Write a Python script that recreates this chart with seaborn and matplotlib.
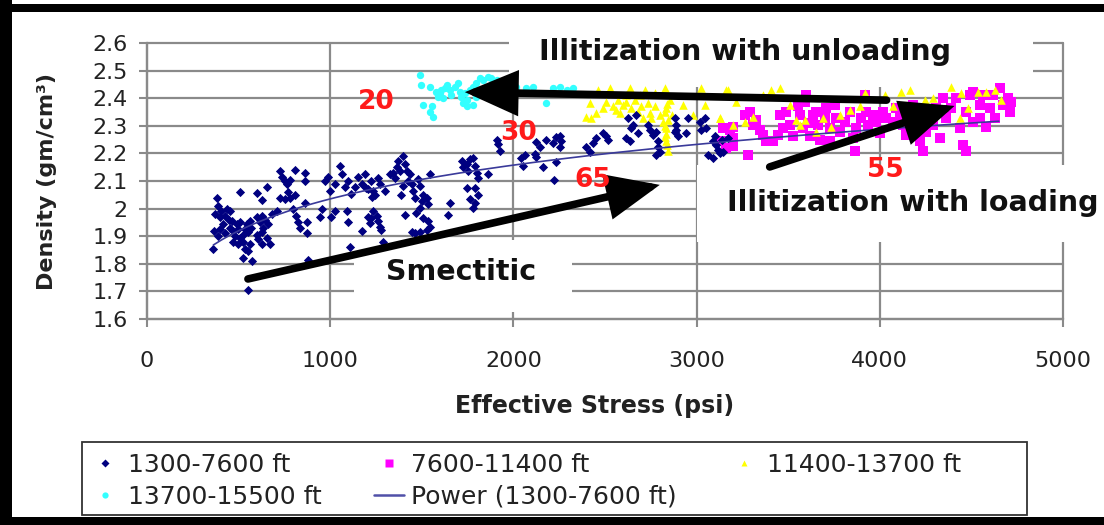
import numpy as np
import pandas as pd
import matplotlib
matplotlib.use("Agg")
import matplotlib.pyplot as plt
import seaborn as sns
from matplotlib.patches import Rectangle
from matplotlib.lines import Line2D
from matplotlib.ticker import FuncFormatter

# ------------------------------------------------------------------ data
# 1300-7600 ft  (effective stress psi, density g/cm3)
shallow_pts = [
    (380, 2.04), (390, 2.01), (405, 1.99), (370, 1.98), (400, 1.97), (435, 2.00), (425, 1.975),
    (455, 1.99), (445, 1.96), (462, 1.955), (415, 1.945), (368, 1.92), (398, 1.925), (390, 1.90),
    (425, 1.91), (453, 1.93), (470, 1.92), (490, 1.945), (505, 1.95), (498, 1.925), (480, 1.90),
    (507, 1.895), (525, 1.905), (535, 1.925), (545, 1.945), (562, 1.955), (570, 1.93), (553, 1.915),
    (526, 1.88), (498, 1.87), (470, 1.88), (362, 1.855), (535, 1.855), (562, 1.87), (553, 1.845),
    (526, 1.82), (571, 1.81), (598, 1.905), (607, 1.89), (626, 1.915), (635, 1.93), (617, 1.95),
    (598, 1.97), (626, 1.975), (644, 1.96), (662, 1.945), (670, 1.87), (626, 1.87), (653, 1.895),
    (507, 2.06), (598, 2.055), (626, 2.03), (653, 2.08), (680, 1.98), (553, 1.705),
    (726, 2.135), (735, 2.115), (753, 2.10), (780, 2.105), (762, 2.09), (807, 2.14), (862, 2.13),
    (862, 2.10), (771, 2.06), (726, 2.04), (753, 2.035), (780, 2.04), (807, 2.05), (707, 1.99),
    (798, 2.00), (816, 1.975), (826, 1.95), (835, 1.93), (871, 1.91), (871, 1.95), (862, 2.02),
    (880, 1.815),
    (971, 2.101), (989, 2.113), (998, 2.065), (1025, 2.089), (1053, 2.155), (1062, 2.125),
    (1080, 2.077), (1098, 2.101), (1116, 2.053), (1135, 2.077), (1153, 2.113), (1171, 2.089),
    (1189, 2.125), (1207, 2.071), (1226, 2.041), (1089, 1.993), (1098, 1.951), (1025, 1.993),
    (1007, 1.969), (953, 1.999), (944, 1.969), (1171, 1.920), (1107, 1.860), (1207, 1.969),
    (1198, 2.076), (1225, 2.10), (1235, 2.063), (1244, 2.051), (1262, 2.112), (1271, 2.088),
    (1298, 2.063), (1326, 2.124), (1344, 2.13), (1353, 2.112), (1362, 2.149), (1380, 2.137),
    (1371, 2.173), (1398, 2.191), (1408, 2.161), (1417, 2.137), (1435, 2.124), (1426, 2.10),
    (1398, 2.082), (1389, 2.051), (1444, 2.088), (1453, 2.063), (1462, 2.039), (1480, 2.106),
    (1490, 2.082), (1508, 2.051), (1499, 2.027), (1526, 2.039), (1535, 2.015), (1490, 2.002),
    (1471, 1.984), (1508, 1.966), (1535, 1.954), (1544, 1.935), (1526, 1.923), (1490, 1.917),
    (1462, 1.911), (1444, 1.917), (1235, 1.99), (1253, 1.972), (1262, 1.954), (1271, 1.935),
    (1280, 1.923), (1225, 1.966), (1216, 1.948), (1289, 1.88), (1408, 1.978), (1653, 2.021),
    (1644, 1.978), (1544, 2.124), (1717, 2.173), (1726, 2.149), (1744, 2.161), (1753, 2.137),
    (1762, 2.179), (1780, 2.185), (1790, 2.155), (1799, 2.13), (1808, 2.112), (1744, 2.076),
    (1790, 2.076), (1808, 2.051), (1790, 2.021), (1780, 2.002), (1762, 2.033), (1862, 2.124),
    (1917, 2.234), (1926, 2.21), (2044, 2.185), (2053, 2.155), (2117, 2.198),
    (1908, 2.249), (2126, 2.243), (2144, 2.225), (2180, 2.249), (2217, 2.237), (2235, 2.261),
    (2253, 2.225), (2062, 2.194), (2122, 2.187), (2160, 2.151), (2220, 2.104), (2230, 2.17),
    (2253, 2.262), (2262, 2.244), (2399, 2.224), (2417, 2.206), (2435, 2.236), (2453, 2.256),
    (2490, 2.273), (2508, 2.262), (2517, 2.250), (2617, 2.256), (2635, 2.244), (2626, 2.327),
    (2653, 2.303), (2671, 2.339), (2681, 2.273), (2644, 2.291), (2735, 2.303), (2744, 2.285),
    (2762, 2.268), (2781, 2.279), (2790, 2.244), (2790, 2.224), (2781, 2.194), (2799, 2.206),
    (2881, 2.327), (2890, 2.303), (2899, 2.262), (2881, 2.279), (2890, 2.285), (2954, 2.327),
    (2944, 2.273), (3017, 2.315), (3026, 2.285), (3044, 2.327), (3053, 2.291), (3099, 2.262),
    (3090, 2.244), (3108, 2.230), (3136, 2.250), (3117, 2.213), (3062, 2.194), (3090, 2.182),
    (3126, 2.200), (3145, 2.206), (3172, 2.256),
]

# 7600-11400 ft
mid_pts = [
    (3153, 2.291), (3199, 2.297), (3135, 2.244), (3199, 2.226),
    (3144, 2.291), (3181, 2.285), (3199, 2.256), (3162, 2.220), (3262, 2.339), (3290, 2.351),
    (3308, 2.303), (3326, 2.321), (3344, 2.285), (3363, 2.268), (3381, 2.244), (3281, 2.196),
    (3417, 2.244), (3445, 2.268), (3472, 2.291), (3508, 2.303), (3526, 2.262), (3554, 2.370),
    (3563, 2.339), (3581, 2.291), (3599, 2.412), (3608, 2.309), (3617, 2.262), (3635, 2.339),
    (3654, 2.351), (3663, 2.303), (3672, 2.250), (3699, 2.327), (3708, 2.363), (3726, 2.291),
    (3754, 2.376), (3763, 2.327), (3781, 2.279), (3808, 2.315), (3836, 2.351), (3854, 2.256),
    (3863, 2.208), (3872, 2.291), (3899, 2.327), (3917, 2.412), (3926, 2.351), (3936, 2.303),
    (3963, 2.339), (3981, 2.315), (3999, 2.273), (4036, 2.327), (4072, 2.315), (3590, 2.388),
    (3490, 2.351), (3726, 2.244), (3454, 2.339),
    (4018, 2.351), (4090, 2.363), (4108, 2.339), (4127, 2.303), (4145, 2.268), (4181, 2.376),
    (4218, 2.244), (4236, 2.208), (4254, 2.279), (4290, 2.303), (4327, 2.256), (4345, 2.400),
    (4363, 2.327), (4390, 2.363), (4418, 2.400), (4436, 2.291), (4454, 2.232), (4472, 2.208),
    (4472, 2.351), (4490, 2.412), (4509, 2.315), (4545, 2.376), (4545, 2.327), (4563, 2.412),
    (4581, 2.297), (4600, 2.363), (4627, 2.327), (4654, 2.436), (4672, 2.376), (4700, 2.400),
    (4709, 2.351), (4718, 2.388), (4618, 2.412), (4509, 2.424), (4308, 2.363),
]

# 11400-13700 ft
deep_pts = [
    (2417, 2.382), (2399, 2.333), (2426, 2.327), (2453, 2.345), (2462, 2.430), (2490, 2.363),
    (2508, 2.388), (2526, 2.436), (2544, 2.370), (2562, 2.357), (2572, 2.394), (2581, 2.345),
    (2599, 2.376), (2617, 2.388), (2635, 2.436), (2644, 2.363), (2662, 2.394), (2681, 2.351),
    (2699, 2.370), (2708, 2.327), (2717, 2.430), (2735, 2.382), (2744, 2.345), (2753, 2.327),
    (2772, 2.370), (2799, 2.339), (2817, 2.315), (2826, 2.436), (2835, 2.363), (2835, 2.291),
    (2835, 2.244), (2844, 2.208), (2854, 2.394), (2863, 2.339), (2926, 2.376), (2981, 2.339),
    (3026, 2.436), (3044, 2.376), (3126, 2.327), (3172, 2.430), (3199, 2.303), (2617, 2.412),
    (2690, 2.412), (2772, 2.418), (2835, 2.270), (2844, 2.320), (2826, 2.300), (2830, 2.26),
    (2840, 2.23), (2830, 2.35), (2840, 2.38),
    (3162, 2.430), (3217, 2.388), (3408, 2.430), (3454, 2.436), (3363, 2.412), (3508, 2.376),
    (3308, 2.333), (3262, 2.315), (3545, 2.321), (3590, 2.321), (3563, 2.303), (3690, 2.327),
    (3736, 2.297), (3781, 2.339), (3836, 2.357), (3890, 2.370), (3654, 2.279), (3126, 2.327),
    (4072, 2.370), (4026, 2.412), (3917, 2.418),
    (4117, 2.424), (4163, 2.430), (4245, 2.394), (4290, 2.400), (4390, 2.442), (4445, 2.418),
    (4481, 2.363), (4536, 2.424), (4581, 2.424), (4627, 2.430), (4663, 2.394), (4436, 2.327),
]

# 13700-15500 ft
deepest_pts = [
    (1489, 2.484), (1498, 2.448), (1544, 2.442), (1580, 2.424), (1598, 2.418), (1589, 2.405),
    (1607, 2.430), (1625, 2.436), (1635, 2.448), (1653, 2.430), (1662, 2.412), (1680, 2.442),
    (1698, 2.454), (1707, 2.424), (1716, 2.405), (1735, 2.418), (1744, 2.393), (1762, 2.430),
    (1780, 2.442), (1798, 2.454), (1816, 2.472), (1835, 2.466), (1862, 2.478), (1880, 2.472),
    (1908, 2.466), (1935, 2.460), (1507, 2.376), (1553, 2.370), (1562, 2.333), (1544, 2.351),
    (1744, 2.370), (1780, 2.376), (1726, 2.381), (2016, 2.442), (2071, 2.436), (2108, 2.442),
    (2180, 2.381), (2217, 2.436), (2253, 2.442), (2290, 2.430), (2326, 2.436), (1798, 2.405),
    (1616, 2.399),
]

series_names = ["1300-7600 ft", "7600-11400 ft", "11400-13700 ft", "13700-15500 ft"]
trend_label = "Power (1300-7600 ft)"
trend_forecast_end = 4650          # Excel trendline extended forward to ~4650 psi

x_ticks = [0, 1000, 2000, 3000, 4000, 5000]
y_ticks = [1.6, 1.7, 1.8, 1.9, 2.0, 2.1, 2.2, 2.3, 2.4, 2.5, 2.6]

annotations = ["Illitization with unloading", "Smectitic", "Illitization with loading"]
smectite_pct = ["20", "30", "65", "55"]

# ------------------------------------------------------------------ build frame
def to_df(pts, name):
    a = np.array(pts, dtype=float)
    return pd.DataFrame({"stress": a[:, 0], "density": a[:, 1], "series": name})

dfs = {n: to_df(p, n) for n, p in zip(series_names, [shallow_pts, mid_pts, deep_pts, deepest_pts])}

NAVY, MAGENTA, YELLOW, CYAN = "#000080", "#ff00ff", "#ffff00", "#33ffff"
TREND = "#3a3a9a"
GRID = "#8a8a8a"
RED = "#ff1a1a"

sns.set_theme(style="white")
plt.rcParams["font.family"] = ["DejaVu Sans"]

W, H = 1104, 525
fig = plt.figure(figsize=(W / 100, H / 100), dpi=100)
fig.patch.set_facecolor("white")

def fx(px):
    return px / W

def fy(py):
    return 1 - py / H

ax_l, ax_r, ax_t, ax_b = 147, 1063, 43, 319
ax = fig.add_axes([fx(ax_l), fy(ax_b), fx(ax_r - ax_l), (ax_b - ax_t) / H])
ax.set_facecolor("white")

# series (drawing order: magenta, yellow, navy, cyan)
sns.scatterplot(data=dfs[series_names[1]], x="stress", y="density", ax=ax, marker="s",
                color=MAGENTA, s=52, linewidth=0, zorder=3, legend=False)
sns.scatterplot(data=dfs[series_names[2]], x="stress", y="density", ax=ax, marker="^",
                color=YELLOW, s=38, linewidth=0, zorder=3, legend=False)
sns.scatterplot(data=dfs[series_names[0]], x="stress", y="density", ax=ax, marker="D",
                color=NAVY, s=22, linewidth=0, zorder=3, legend=False)
sns.scatterplot(data=dfs[series_names[3]], x="stress", y="density", ax=ax, marker="o",
                color=CYAN, s=28, linewidth=0, zorder=3, legend=False)

# power-law trendline fitted to the shallow series, forecast forward
sh = dfs[series_names[0]]
b, ln_a = np.polyfit(np.log(sh["stress"]), np.log(sh["density"]), 1)
tx = np.linspace(sh["stress"].min(), trend_forecast_end, 200)
trend_df = pd.DataFrame({"stress": tx, "density": np.exp(ln_a) * tx ** b})
sns.lineplot(data=trend_df, x="stress", y="density", ax=ax, color=TREND, lw=1.2,
             zorder=4, legend=False)

# axes
ax.set_xlim(0, 5000)
ax.set_ylim(1.6, 2.6)
ax.set_xticks(x_ticks)
ax.set_yticks(y_ticks)
ax.yaxis.set_major_formatter(FuncFormatter(lambda v, p: f"{v:g}"))
ax.set_axisbelow(True)
ax.grid(True, color=GRID, lw=1.6)
for gl in ax.get_xgridlines() + ax.get_ygridlines():
    gl.set_clip_on(False)
for s in ["top", "right"]:
    ax.spines[s].set_visible(False)
for s in ["left", "bottom"]:
    ax.spines[s].set_color(GRID)
    ax.spines[s].set_linewidth(1.6)
ax.tick_params(axis="both", direction="out", length=6, width=1.5, color=GRID,
               labelsize=16, labelcolor="#222222")
ax.tick_params(axis="x", pad=17, bottom=True)
ax.tick_params(axis="y", pad=8, left=True)
ax.set_xlabel("Effective Stress (psi)", fontsize=17, fontweight="bold", color="#222222")
ax.set_ylabel("Density (gm/cm\u00b3)", fontsize=16, fontweight="bold", color="#222222")
ax.xaxis.set_label_coords((595 - ax_l) / (ax_r - ax_l), -(394 - ax_b) / (ax_b - ax_t))
ax.yaxis.set_label_coords(-(ax_l - 57) / (ax_r - ax_l), 0.5)

# white text boxes that hide the grid behind annotations (data coords)
for (x0, x1, y0, y1) in [(1975, 4834, 2.441, 2.650),
                         (1129, 2319, 1.625, 1.886),
                         (3004, 5230, 1.879, 2.158)]:
    ax.add_patch(Rectangle((x0, y0), x1 - x0, y1 - y0, facecolor="white", edgecolor="none",
                           zorder=1, clip_on=False))

# arrows
arrow_kw = dict(arrowstyle="-|>,head_length=2.9,head_width=1.25", lw=5.5, color="black",
                shrinkA=0, shrinkB=0, mutation_scale=10, joinstyle="miter")
for tail, tip in [((551, 1.745), (2799, 2.086)),
                  ((4037, 2.393), (1735, 2.422)),
                  ((3399, 2.151), (4408, 2.372))]:
    ax.annotate("", xy=tip, xytext=tail, arrowprops=arrow_kw, annotation_clip=False, zorder=6)

# labels
txt_kw = dict(fontsize=20.5, fontweight="bold", color="#111111", ha="center", va="center",
              zorder=7, clip_on=False)
ax.text(3262, 2.567, annotations[0], **txt_kw)
ax.text(1713, 1.770, annotations[1], **txt_kw)
ax.text(4179, 2.020, annotations[2], **txt_kw)
for lab, (xx, yy) in zip(smectite_pct, [(1249, 2.386), (2029, 2.274), (2433, 2.104), (4032, 2.140)]):
    ax.text(xx, yy, lab, fontsize=19, fontweight="bold", color=RED, ha="center", va="center",
            zorder=7)

# legend (frame drawn separately to match the reference box)
fig.add_artist(Rectangle((fx(82), fy(515)), fx(1027 - 82), (515 - 442) / H, transform=fig.transFigure,
                         facecolor="white", edgecolor="#333333", lw=1.3, zorder=1))
h_navy = Line2D([], [], ls="none", marker="D", ms=4, mfc=NAVY, mec="none")
h_mag = Line2D([], [], ls="none", marker="s", ms=5.5, mfc=MAGENTA, mec="none")
h_yel = Line2D([], [], ls="none", marker="^", ms=5, mfc=YELLOW, mec="none")
h_cyan = Line2D([], [], ls="none", marker="o", ms=4.5, mfc=CYAN, mec="none")
h_trend = Line2D([], [], color="#5050a8", lw=1.8)
handles = [h_navy, h_cyan, h_mag, h_trend, h_yel]
labels = [series_names[0], series_names[3], series_names[1], trend_label, series_names[2]]
leg = fig.legend(handles, labels, ncol=3, loc="upper left", bbox_to_anchor=(fx(90), fy(453)),
                 frameon=False, fontsize=18, handlelength=1.2, handletextpad=0.3,
                 columnspacing=2.1, labelspacing=0.3, borderpad=0, borderaxespad=0)
for t in leg.get_texts():
    t.set_color("#222222")

# black picture frame (top, left, bottom)
for rect in [(0, fy(12), 1, 8 / H), (0, 0, fx(12), 1), (0, 0, 1, 8 / H)]:
    fig.add_artist(Rectangle(rect[:2], rect[2], rect[3], transform=fig.transFigure,
                             facecolor="black", edgecolor="none", zorder=10))

fig.savefig("out.png", dpi=100, facecolor="white")
